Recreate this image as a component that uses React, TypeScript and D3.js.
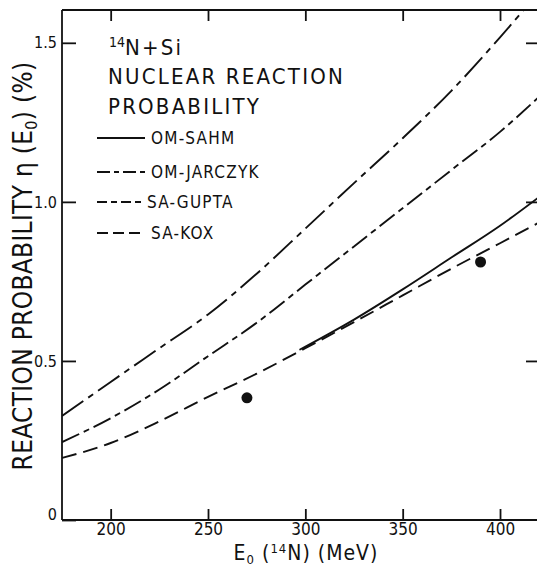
import React, { useEffect, useRef } from 'react';
import * as d3 from 'd3';

const energies = [175, 200, 225, 250, 275, 300, 325, 350, 375, 400, 420];
const omJarczyk = [0.327, 0.434, 0.54, 0.646, 0.774, 0.916, 1.059, 1.2, 1.349, 1.517, 1.66];
const saGupta = [0.245, 0.32, 0.41, 0.515, 0.62, 0.74, 0.86, 0.98, 1.1, 1.22, 1.33];
const saKox = [0.195, 0.242, 0.31, 0.387, 0.46, 0.54, 0.622, 0.706, 0.79, 0.87, 0.935];
// OM-SAHM only drawn from ~300 MeV
const sahmEnergies = [297, 325, 350, 375, 400, 420];
const omSahm = [0.535, 0.63, 0.725, 0.825, 0.925, 1.015];
// measured points
const measE = [270, 390];
const measEta = [0.384, 0.811];

const xTicks = [200, 250, 300, 350, 400];
const yTicks = [0, 0.5, 1.0, 1.5];
const yTickLabels = ['0', '0.5', '1.0', '1.5'];

const legendNames = ['OM-SAHM', 'OM-JARCZYK', 'SA-GUPTA', 'SA-KOX'];

const FONT = "'DejaVu Sans Condensed', 'DejaVu Sans', sans-serif";

const App = () => {
  const ref = useRef<SVGSVGElement>(null);

  useEffect(() => {
    const svg = d3.select(ref.current);
    svg.selectAll('*').remove();

    const left = 62, right = 537, top = 10, bottom = 520;
    const x = d3.scaleLinear().domain([175, 419]).range([left, right]);
    const y = d3.scaleLinear().domain([0, 1.6]).range([bottom, 11]);

    svg.append('clipPath').attr('id', 'plotclip')
      .append('rect')
      .attr('x', left).attr('y', top)
      .attr('width', right - left).attr('height', bottom - top);

    // frame
    const frame = svg.append('g').attr('stroke', '#111').attr('stroke-width', 1.8).attr('fill', 'none');
    frame.append('line').attr('x1', left).attr('x2', left).attr('y1', top).attr('y2', bottom);
    frame.append('line').attr('x1', left).attr('x2', right).attr('y1', bottom).attr('y2', bottom);
    frame.append('line').attr('x1', left).attr('x2', right).attr('y1', top).attr('y2', top);

    // bottom axis, ticks pointing inward
    const xAxis = svg.append('g')
      .attr('transform', `translate(0,${bottom})`)
      .call(d3.axisBottom(x).tickValues(xTicks).tickSize(-11).tickPadding(3).tickFormat(d3.format('d')));
    xAxis.select('.domain').remove();
    xAxis.selectAll('line').attr('stroke', '#111').attr('stroke-width', 1.8);
    xAxis.selectAll('text').attr('font-family', FONT).attr('font-size', 17).attr('fill', '#111');

    // top ticks
    svg.append('g')
      .attr('transform', `translate(0,${top})`)
      .call(d3.axisTop(x).tickValues(xTicks).tickSize(-11).tickFormat(() => ''))
      .call(g => g.select('.domain').remove())
      .selectAll('line').attr('stroke', '#111').attr('stroke-width', 1.8);

    // left axis
    const yAxis = svg.append('g')
      .attr('transform', `translate(${left},0)`)
      .call(d3.axisLeft(y).tickValues(yTicks).tickSize(-14).tickPadding(5)
        .tickFormat((d, i) => yTickLabels[i]));
    yAxis.select('.domain').remove();
    yAxis.selectAll('line').attr('stroke', '#111').attr('stroke-width', 1.8);
    yAxis.selectAll('text').attr('font-family', FONT).attr('font-size', 16).attr('fill', '#111');
    yAxis.selectAll('.tick').filter((d) => d === 0).select('text').attr('dy', '-0.05em');

    // right ticks
    svg.append('g')
      .attr('transform', `translate(${right},0)`)
      .call(d3.axisRight(y).tickValues(yTicks.slice(1)).tickSize(-11).tickFormat(() => ''))
      .call(g => g.select('.domain').remove())
      .selectAll('line').attr('stroke', '#111').attr('stroke-width', 1.8);

    // curves
    const line = d3.line<[number, number]>()
      .x(d => x(d[0])).y(d => y(d[1]))
      .curve(d3.curveMonotoneX);
    const curves = [
      { e: sahmEnergies, v: omSahm, dash: null },
      { e: energies, v: omJarczyk, dash: '26,6,6,6' },
      { e: energies, v: saGupta, dash: '19,5,6,5' },
      { e: energies, v: saKox, dash: '15,7' },
    ];
    const cg = svg.append('g').attr('clip-path', 'url(#plotclip)');
    curves.forEach(c => {
      cg.append('path')
        .attr('d', line(c.e.map((e, i) => [e, c.v[i]] as [number, number])))
        .attr('fill', 'none')
        .attr('stroke', '#111')
        .attr('stroke-width', 1.9)
        .attr('stroke-dasharray', c.dash);
    });

    // measured points
    cg.selectAll('circle.meas')
      .data(measE)
      .enter().append('circle')
      .attr('class', 'meas')
      .attr('cx', d => x(d))
      .attr('cy', (d, i) => y(measEta[i]))
      .attr('r', 5.5)
      .attr('fill', '#111');

    // title block
    const t = svg.append('g').attr('font-family', FONT).attr('fill', '#111').attr('letter-spacing', 2.2);
    const t1 = t.append('text').attr('x', 109).attr('y', 55).attr('font-size', 22);
    t1.append('tspan').attr('font-size', 14).attr('dy', -8).attr('letter-spacing', 0).text('14');
    t1.append('tspan').attr('dy', 8).text('N+Si');
    t.append('text').attr('x', 108).attr('y', 84).attr('font-size', 22).text('NUCLEAR REACTION');
    t.append('text').attr('x', 108).attr('y', 114).attr('font-size', 22).text('PROBABILITY');

    // legend
    const legendY = [138, 172, 202, 233];
    const lg = svg.append('g');
    curves.forEach((c, i) => {
      lg.append('line')
        .attr('x1', 97).attr('x2', 145)
        .attr('y1', legendY[i]).attr('y2', legendY[i])
        .attr('stroke', '#111').attr('stroke-width', 1.8)
        .attr('stroke-dasharray', i === 1 ? '13,4,5,4' : i === 2 ? '10,4,6,4' : i === 3 ? '11,5' : null);
      lg.append('text')
        .attr('x', i === 2 ? 147 : 151).attr('y', legendY[i]).attr('dy', '0.36em')
        .attr('font-family', FONT).attr('font-size', 17).attr('fill', '#111')
        .attr('letter-spacing', 1.2)
        .text(legendNames[i]);
    });

    // y axis title
    const yl = svg.append('text')
      .attr('transform', 'translate(32,266) rotate(-90)')
      .attr('text-anchor', 'middle')
      .attr('letter-spacing', 0.3)
      .attr('font-family', FONT).attr('font-size', 26).attr('fill', '#111');
    yl.append('tspan').text('REACTION PROBABILITY η (E');
    yl.append('tspan').attr('font-size', 16).attr('dy', 5).text('0');
    yl.append('tspan').attr('dy', -5).text(') (%)');

    // x axis title
    const xl = svg.append('text')
      .attr('x', 306).attr('y', 560)
      .attr('text-anchor', 'middle')
      .attr('letter-spacing', 1)
      .attr('font-family', FONT).attr('font-size', 21).attr('fill', '#111');
    xl.append('tspan').text('E');
    xl.append('tspan').attr('font-size', 13).attr('dy', 4).text('0');
    xl.append('tspan').attr('dy', -4).text(' (');
    xl.append('tspan').attr('font-size', 13).attr('dy', -7).text('14');
    xl.append('tspan').attr('dy', 7).text('N) (MeV)');
  }, []);

  return (
    <svg ref={ref} width={537} height={567}
      style={{ position: 'absolute', left: 0, top: 0, background: '#fff' }} />
  );
};

export default App;
